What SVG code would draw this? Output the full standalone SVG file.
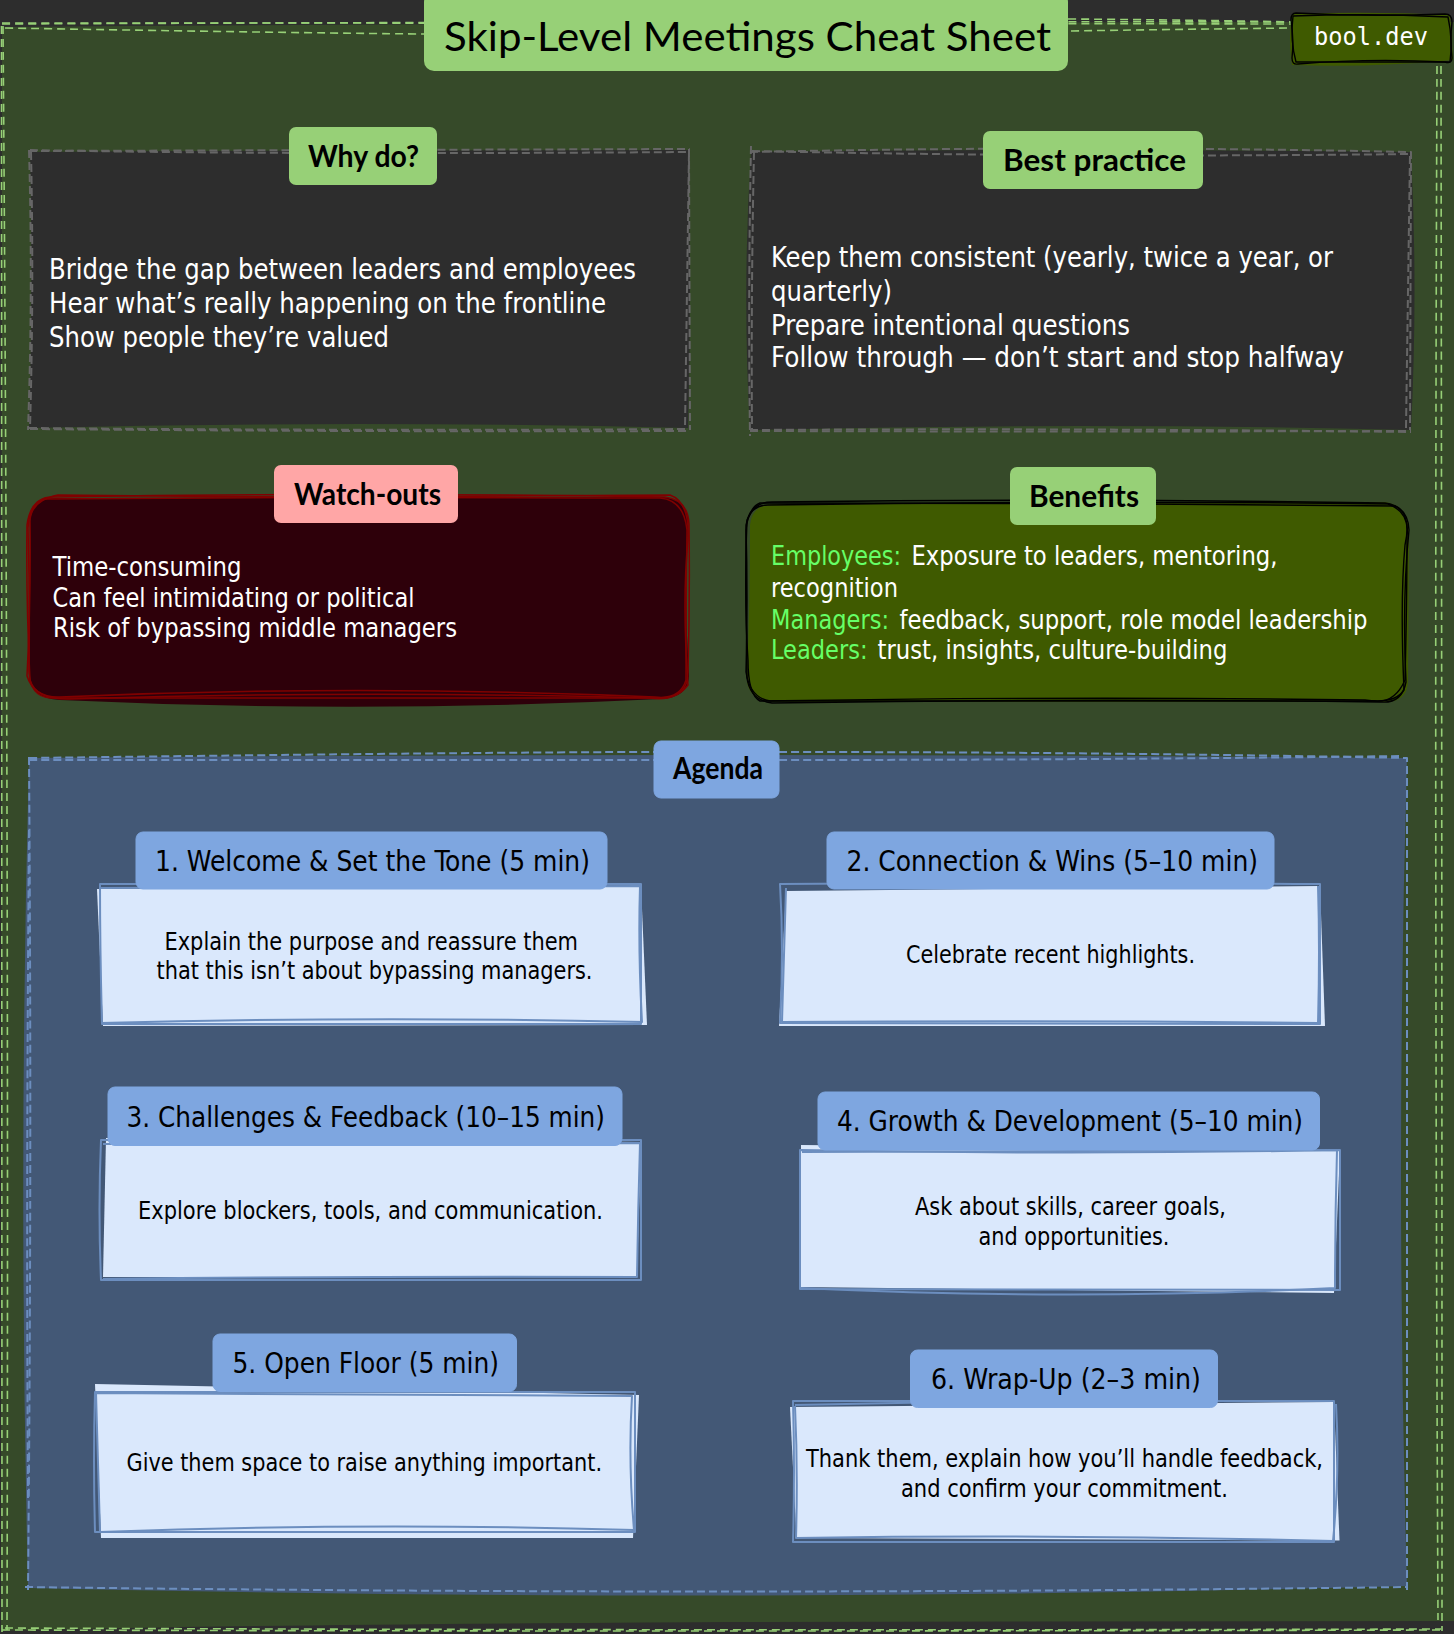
<svg xmlns="http://www.w3.org/2000/svg" width="1454" height="1634" viewBox="0 0 1454 1634">
<style>
text{font-family:"DejaVu Sans Condensed","DejaVu Sans",sans-serif;font-stretch:condensed;}
.s{fill:none;stroke-linecap:butt;stroke-linejoin:round}
.outer{stroke:#97d077;stroke-width:1.6;stroke-dasharray:8 5}
.panel{stroke:#666;stroke-width:2;stroke-dasharray:8 4}
.ag{stroke:#6c8ebf;stroke-width:2;stroke-dasharray:8 4}
.red{stroke:#800000;stroke-width:1.5}
.blk{stroke:#000;stroke-width:1.4}
.card{stroke:#6c8ebf;stroke-width:2}
.cf{fill:#dae8fc}
.cl{fill:#7ea6e0;stroke:#7ea6e0;stroke-width:1}
.gl{fill:#97d077}
.pl{fill:#ffa6a6}
.w28{font-size:28px;fill:#fff}
.w26{font-size:26px;fill:#fff}
.k28{font-size:28px;fill:#000}
.k24{font-size:24.5px;fill:#000}
.hand{font-family:"Lato","Noto Sans",sans-serif;fill:#000;font-stretch:normal}
.h30{font-size:30px;font-weight:700}
.title{font-size:40px;font-weight:400}
</style>
<rect width="1454" height="1634" fill="#2d2d2d"/>
<g id="frame">
<path d="M2 27Q700 22 1454 22L1454 1621L727 1622Q200 1625 1 1631Z" fill="#364a29"/>
<path class="s outer" d="M2 24Q700 21 1292 22"/>
<path class="s outer" d="M2 23Q700 23 1292 24"/>
<path class="s outer" d="M5 28Q300 33 424 34L1068 31Q1200 29 1292 28"/>
<path class="s outer" d="M1068 19Q1200 20 1292 22"/>
<path class="s outer" d="M1.500 26L2 1632"/>
<path class="s outer" d="M3 26Q9 800 7 1630"/>
<path class="s outer" d="M1441 66Q1442 800 1442 1631"/>
<path class="s outer" d="M1437 66Q1434 800 1438 1620"/>
<path class="s outer" d="M2 1630Q700 1632 1440 1630"/>
<path class="s outer" d="M5 1628Q700 1631 1441 1629"/>
</g>
<g id="brand">
<path d="M1292 14Q1370 11 1450 15L1453 60Q1370 68 1292 65Q1288 40 1292 14Z" fill="#3f5a00"/>
<path class="s blk" d="M1296 13Q1370 17 1445 14Q1452 14 1452 22Q1450 40 1452 58Q1452 64 1445 62Q1370 58 1298 64Q1292 65 1292 58Q1294 40 1291 20Q1291 13 1296 13Z"/>
<path class="s blk" d="M1293 16Q1370 13 1448 17Q1453 40 1450 62Q1370 62 1296 62Q1290 40 1293 16Z"/>
<text x="1314" y="45" textLength="114" lengthAdjust="spacingAndGlyphs" style="font-family:'DejaVu Sans Mono',monospace;font-stretch:normal;font-size:25px;fill:#fff">bool.dev</text>
</g>
<g id="title">
<rect x="424" y="-8" width="644" height="79" rx="10" class="gl"/>
<text x="444" y="51" textLength="607" lengthAdjust="spacingAndGlyphs" class="hand title">Skip-Level Meetings Cheat Sheet</text>
</g>
<g id="why">
<path d="M30 152Q360 150 688 150Q692 290 688 428Q360 420 29 428Q33 290 30 152Z" fill="#2d2d2d"/>
<path class="s panel" d="M29 151Q360 150 689 149L690 430"/>
<path class="s panel" d="M30 150Q280 155 689 152L685 428"/>
<path class="s panel" d="M29 428Q360 431 690 429"/>
<path class="s panel" d="M29 150Q33 290 28 430"/>
<path class="s panel" d="M31 152Q34 290 30 428"/>
<path class="s panel" d="M30 429Q360 432 690 431"/>
<rect x="289" y="127" width="148" height="58" rx="7" class="gl"/>
<text x="308" y="167" textLength="111" lengthAdjust="spacingAndGlyphs" class="hand h30">Why do?</text>
<text x="49" y="279" textLength="587" lengthAdjust="spacingAndGlyphs" class="w28">Bridge the gap between leaders and employees</text>
<text x="49" y="313" textLength="557" lengthAdjust="spacingAndGlyphs" class="w28">Hear what’s really happening on the frontline</text>
<text x="49" y="347" textLength="340" lengthAdjust="spacingAndGlyphs" class="w28">Show people they’re valued</text>
</g>
<g id="best-practice">
<path d="M751 152Q1080 148 1411 152Q1418 290 1411 430Q1080 422 750 430Q742 290 751 152Z" fill="#2d2d2d"/>
<path class="s panel" d="M750 152Q1080 145 1411 152L1410 430"/>
<path class="s panel" d="M752 151Q1080 158 1410 154L1406 428"/>
<path class="s panel" d="M750 431Q1080 432 1411 431"/>
<path class="s panel" d="M751 146Q748 290 750 436"/>
<path class="s panel" d="M754 152Q751 290 752 430"/>
<path class="s panel" d="M750 430Q1080 428 1411 432"/>
<rect x="983" y="131" width="220" height="58" rx="7" class="gl"/>
<text x="1003" y="171" textLength="183" lengthAdjust="spacingAndGlyphs" class="hand h30">Best practice</text>
<text x="771" y="267" textLength="562" lengthAdjust="spacingAndGlyphs" class="w28">Keep them consistent (yearly, twice a year, or</text>
<text x="771" y="301" textLength="121" lengthAdjust="spacingAndGlyphs" class="w28">quarterly)</text>
<text x="771" y="335" textLength="359" lengthAdjust="spacingAndGlyphs" class="w28">Prepare intentional questions</text>
<text x="771" y="367" textLength="573" lengthAdjust="spacingAndGlyphs" class="w28">Follow through — don’t start and stop halfway</text>
</g>
<g id="watch-outs">
<path d="M30 522Q32 498 56 498L660 497Q688 498 688 522Q684 600 689 676Q688 698 660 699Q360 714 60 700Q30 698 30 676Z" fill="#2e000a"/>
<path class="s red" d="M52 497Q360 492 665 497Q688 500 689 524Q690 600 688 672Q688 698 660 698Q360 698 50 698Q30 696 29 672Q30 600 28 528Q30 497 52 497Z"/>
<path class="s red" d="M58 495Q360 498 660 498Q684 500 687 530Q686 600 686 680Q680 700 655 697Q360 684 60 697Q34 698 27 676Q31 600 30 520Q32 500 58 495Z"/>
<path class="s red" d="M45 499Q360 496 670 495Q690 502 688 540Q682 600 688 685Q675 702 650 698Q360 690 70 699Q36 700 30 680Q26 600 27 525Q30 502 45 499Z"/>
<rect x="274" y="465" width="184" height="58" rx="7" class="pl"/>
<text x="294" y="505" textLength="147" lengthAdjust="spacingAndGlyphs" class="hand h30">Watch-outs</text>
<text x="52.500" y="576" textLength="189" lengthAdjust="spacingAndGlyphs" class="w26">Time-consuming</text>
<text x="52.500" y="607" textLength="362" lengthAdjust="spacingAndGlyphs" class="w26">Can feel intimidating or political</text>
<text x="53" y="637" textLength="404" lengthAdjust="spacingAndGlyphs" class="w26">Risk of bypassing middle managers</text>
</g>
<g id="benefits">
<path d="M750 525Q752 504 775 504L1385 502Q1408 506 1409 530L1408 680Q1408 702 1385 702L775 702Q748 700 747 680Q750 600 750 525Z" fill="#3f5a00"/>
<path class="s blk" d="M772 502Q1080 498 1385 503Q1408 506 1409 530Q1402 600 1406 682Q1402 704 1380 702Q1080 698 772 703Q750 700 747 678Q746 600 746 530Q748 502 772 502Z"/>
<path class="s blk" d="M768 505Q1080 500 1388 504Q1410 512 1407 536Q1407 600 1405 680Q1395 703 1375 701Q1080 701 770 701Q750 698 746 672Q748 600 746 525Q750 505 768 505Z"/>
<path class="s blk" d="M760 503Q1080 503 1395 506Q1412 514 1405 545Q1400 600 1404 690Q1395 704 1365 700Q1080 696 760 701Q748 695 748 660Q744 600 747 520Q752 506 760 503Z"/>
<rect x="1010" y="467" width="146" height="58" rx="7" class="gl"/>
<text x="1029" y="507" textLength="110" lengthAdjust="spacingAndGlyphs" class="hand h30">Benefits</text>
<text x="771" y="565" textLength="130" lengthAdjust="spacingAndGlyphs" class="w26" style="fill:#66ff66">Employees:</text>
<text x="911.500" y="565" textLength="366" lengthAdjust="spacingAndGlyphs" class="w26">Exposure to leaders, mentoring,</text>
<text x="771" y="596.500" textLength="127" lengthAdjust="spacingAndGlyphs" class="w26">recognition</text>
<text x="771" y="629" textLength="118" lengthAdjust="spacingAndGlyphs" class="w26" style="fill:#66ff66">Managers:</text>
<text x="899.500" y="629" textLength="468" lengthAdjust="spacingAndGlyphs" class="w26">feedback, support, role model leadership</text>
<text x="771" y="658.500" textLength="96.500" lengthAdjust="spacingAndGlyphs" class="w26" style="fill:#66ff66">Leaders:</text>
<text x="877.500" y="658.500" textLength="350" lengthAdjust="spacingAndGlyphs" class="w26">trust, insights, culture-building</text>
</g>
<g id="agenda">
<path d="M29 758Q700 752 1407 758Q1395 1170 1407 1586Q720 1604 28 1588Q18 1170 29 758Z" fill="#435876"/>
<path class="s ag" d="M29 758Q500 752 654 752M779 752Q1100 752 1407 758L1407 1590"/>
<path class="s ag" d="M29 760Q500 760 654 760M779 760Q1100 760 1402 756"/>
<path class="s ag" d="M29 757Q32 1170 28 1590"/>
<path class="s ag" d="M29 830Q26 1170 28 1500"/>
<path class="s ag" d="M25 1587Q720 1596 1407 1587"/>
<rect x="654" y="741" width="125" height="57" rx="7" class="cl"/>
<text x="673" y="779" textLength="90" lengthAdjust="spacingAndGlyphs" class="hand h30">Agenda</text>
</g>
<g id="step-1">
<path class="cf" d="M97 889L641 886L647 1025L103 1026Z"/>
<path class="s card" d="M101 884L641 884L641 1024L102 1024Q100 950 100 884Z"/>
<path class="s card" d="M101 888Q370 886 640 886Q638 950 642 1022Q370 1016 101 1023"/>
<rect x="136" y="832" width="471" height="57" rx="7" class="cl"/>
<text x="155" y="871" textLength="435" lengthAdjust="spacingAndGlyphs" class="k28">1. Welcome &amp; Set the Tone (5 min)</text>
<text x="164.500" y="949.500" textLength="413.500" lengthAdjust="spacingAndGlyphs" class="k24">Explain the purpose and reassure them</text>
<text x="156.500" y="979" textLength="436" lengthAdjust="spacingAndGlyphs" class="k24">that this isn’t about bypassing managers.</text>
</g>
<g id="step-2">
<path class="cf" d="M786 891L1320 886L1325 1026L779 1026Z"/>
<path class="s card" d="M780 884Q1050 882 1320 884L1320 1024L780 1023Q784 950 780 884Z"/>
<path class="s card" d="M786 888Q784 950 782 1022Q1050 1020 1318 1023Q1320 950 1318 886"/>
<rect x="827" y="832" width="447" height="57" rx="7" class="cl"/>
<text x="846.500" y="871" textLength="411.500" lengthAdjust="spacingAndGlyphs" class="k28">2. Connection &amp; Wins (5–10 min)</text>
<text x="906" y="963" textLength="289" lengthAdjust="spacingAndGlyphs" class="k24">Celebrate recent highlights.</text>
</g>
<g id="step-3">
<path class="cf" d="M106 1138L641 1142L637 1277L103 1277Z"/>
<path class="s card" d="M101 1140L641 1140L641 1280L101 1280Q98 1210 101 1140Z"/>
<path class="s card" d="M103 1144Q370 1143 640 1143Q638 1210 637 1277Q370 1276 103 1279"/>
<rect x="108" y="1087" width="514" height="58.500" rx="7" class="cl"/>
<text x="126.500" y="1127" textLength="478.500" lengthAdjust="spacingAndGlyphs" class="k28">3. Challenges &amp; Feedback (10–15 min)</text>
<text x="138" y="1218.500" textLength="465" lengthAdjust="spacingAndGlyphs" class="k24">Explore blockers, tools, and communication.</text>
</g>
<g id="step-4">
<path class="cf" d="M801 1145L1340 1150L1334 1293L801 1287Z"/>
<path class="s card" d="M800 1150Q1070 1155 1340 1150L1340 1290L800 1289Z"/>
<path class="s card" d="M802 1152L1337 1150Q1335 1220 1335 1288Q1070 1301 801 1288"/>
<rect x="818" y="1092" width="501.500" height="58" rx="7" class="cl"/>
<text x="837" y="1131" textLength="466" lengthAdjust="spacingAndGlyphs" class="k28">4. Growth &amp; Development (5–10 min)</text>
<text x="915" y="1215" textLength="311" lengthAdjust="spacingAndGlyphs" class="k24">Ask about skills, career goals,</text>
<text x="978.500" y="1245" textLength="191" lengthAdjust="spacingAndGlyphs" class="k24">and opportunities.</text>
</g>
<g id="step-5">
<path class="cf" d="M95 1384L639 1395L633 1538L101 1538Z"/>
<path class="s card" d="M95 1392L635 1392L635 1532L95 1532Q93 1460 95 1392Z"/>
<path class="s card" d="M96 1393L632 1396Q628 1460 634 1530Q365 1522 100 1532Q98 1460 96 1393Z"/>
<rect x="213" y="1334" width="303.500" height="57.500" rx="7" class="cl"/>
<text x="232.500" y="1373" textLength="266.500" lengthAdjust="spacingAndGlyphs" class="k28">5. Open Floor (5 min)</text>
<text x="126.500" y="1471" textLength="475.500" lengthAdjust="spacingAndGlyphs" class="k24">Give them space to raise anything important.</text>
</g>
<g id="step-6">
<path class="cf" d="M790 1407L1334 1402L1339.500 1540.500L796.500 1538Z"/>
<path class="s card" d="M793 1401L1334 1401L1334 1542L793 1542Q795 1470 793 1401Z"/>
<path class="s card" d="M795 1405L1000 1401M795 1406Q798 1470 796 1538Q1060 1534 1333 1541Q1340 1470 1336 1404"/>
<rect x="910.500" y="1350" width="307" height="57.500" rx="7" class="cl"/>
<text x="931" y="1389" textLength="270" lengthAdjust="spacingAndGlyphs" class="k28">6. Wrap-Up (2–3 min)</text>
<text x="806" y="1466.500" textLength="517" lengthAdjust="spacingAndGlyphs" class="k24">Thank them, explain how you’ll handle feedback,</text>
<text x="901" y="1497" textLength="327" lengthAdjust="spacingAndGlyphs" class="k24">and confirm your commitment.</text>
</g>
</svg>
